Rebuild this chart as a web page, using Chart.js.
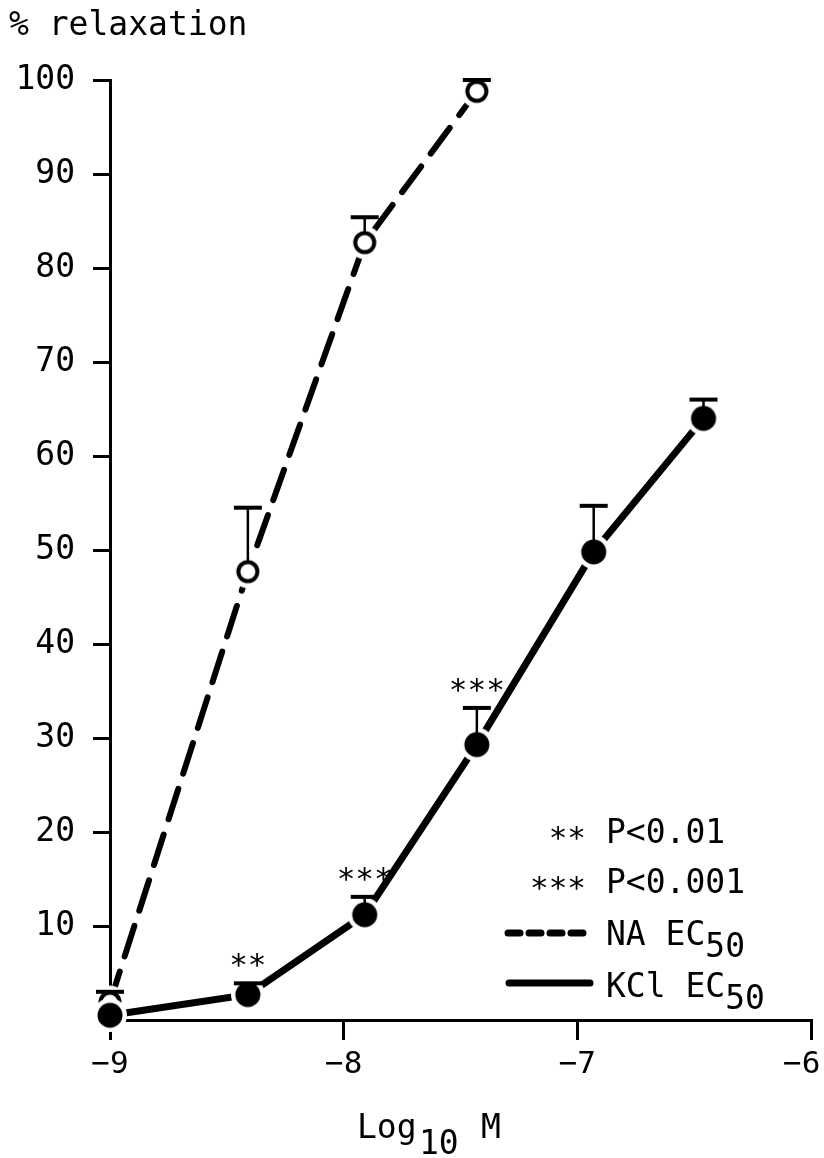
<!DOCTYPE html>
<html>
<head>
<meta charset="utf-8">
<script src="https://cdn.jsdelivr.net/npm/chart.js@4.4.1/dist/chart.umd.min.js"></script>
<style>
  html, body { margin: 0; padding: 0; background: #fff; }
  #wrap { width: 824px; height: 1158px; }
</style>
</head>
<body>
<div id="wrap"><canvas id="c" width="824" height="1158"></canvas></div>
<script>
// ---- data ----
const xTicks = [-9, -8, -7, -6];
const yTicks = [10, 20, 30, 40, 50, 60, 70, 80, 90, 100];

const naLogM   = [-9, -8.41, -7.91, -7.43];
const naRelax  = [1.9, 47.7, 82.7, 98.8];
const naErrTop = [3.0, 54.5, 85.4, 100];

const kclLogM   = [-9, -8.41, -7.91, -7.43, -6.93, -6.46];
const kclRelax  = [0.5, 2.7, 11.2, 29.3, 49.8, 64.0];
const kclErrTop = [null, 3.9, 13.1, 33.2, 54.7, 66.0];

const sigLogM  = [-8.41, -7.91, -7.43];
const sigStars = ['**', '***', '***'];

const legendRows = [
  { mark: '**',  text: 'P<0.01',  sub: '' },
  { mark: '***', text: 'P<0.001', sub: '' },
  { mark: 'dash', text: 'NA EC', sub: '50' },
  { mark: 'solid', text: 'KCl EC', sub: '50' }
];

const FONT = '"DejaVu Sans Mono", monospace';

const pts = (xs, ys) => xs.map((x, i) => ({ x: x, y: ys[i] }));

// marker sprites: black circle (filled or open) with a white halo ring
function makeMarker(filled, R, ring, halo) {
  const size = 2 * Math.ceil(R + halo);
  const c = document.createElement('canvas');
  c.width = c.height = size;
  const g = c.getContext('2d');
  const m = size / 2;
  g.fillStyle = '#fff';
  g.beginPath(); g.arc(m, m, R + halo, 0, Math.PI * 2); g.fill();
  g.fillStyle = '#000';
  g.beginPath(); g.arc(m, m, R, 0, Math.PI * 2); g.fill();
  if (!filled) {
    g.fillStyle = '#fff';
    g.beginPath(); g.arc(m, m, R - ring, 0, Math.PI * 2); g.fill();
  }
  return c;
}
const NA_R = 11.5, KCL_R = 12.5;
const naMarker  = makeMarker(false, NA_R, 4, 5);
const kclMarker = makeMarker(true, KCL_R, 0, 4.5);

const overlay = {
  id: 'overlay',
  afterDatasetsDraw(chart) {
    const ctx = chart.ctx, xs = chart.scales.x, ys = chart.scales.y;
    ctx.save();
    ctx.strokeStyle = '#000';
    ctx.lineCap = 'butt';
    const drawErr = (lx, ly, ey, r) => {
      lx.forEach((x, i) => {
        if (ey[i] == null) return;
        const px = xs.getPixelForValue(x);
        const py = ys.getPixelForValue(ly[i]);
        const pe = ys.getPixelForValue(ey[i]);
        if (py - r > pe) {
          ctx.lineWidth = 2.5;
          ctx.beginPath(); ctx.moveTo(px, py - r + 1); ctx.lineTo(px, pe); ctx.stroke();
        }
        ctx.lineWidth = 4;
        ctx.beginPath(); ctx.moveTo(px - 14, pe); ctx.lineTo(px + 14, pe); ctx.stroke();
      });
    };
    drawErr(naLogM, naRelax, naErrTop, NA_R);
    drawErr(kclLogM, kclRelax, kclErrTop, KCL_R);
    ctx.restore();
  },
  afterDraw(chart) {
    const ctx = chart.ctx, xs = chart.scales.x, ys = chart.scales.y;
    ctx.save();
    ctx.fillStyle = '#000';
    ctx.strokeStyle = '#000';
    ctx.textBaseline = 'alphabetic';

    // y-axis title
    ctx.font = '33px ' + FONT;
    ctx.textAlign = 'left';
    ctx.fillText('% relaxation', 9, 35);

    // x-axis title with subscript
    ctx.fillText('Log', 357, 1138);
    ctx.fillText('10', 419, 1154);
    ctx.fillText('M', 481, 1138);

    // significance stars above KCl error bars
    ctx.font = '31px ' + FONT;
    ctx.textAlign = 'center';
    sigLogM.forEach((x, i) => {
      const k = kclLogM.indexOf(x);
      const top = kclErrTop[k] != null ? kclErrTop[k] : kclRelax[k];
      ctx.fillText(sigStars[i], xs.getPixelForValue(x), ys.getPixelForValue(top) - 8);
    });

    // legend block
    const lx = 606;
    const rowsY = [843, 893, 945, 997];
    legendRows.forEach((r, i) => {
      const by = rowsY[i];
      if (r.mark === 'dash') {
        ctx.lineWidth = 7; ctx.lineCap = 'round';
        ctx.setLineDash([12, 9]);
        ctx.beginPath(); ctx.moveTo(508, by - 12); ctx.lineTo(590, by - 12); ctx.stroke();
        ctx.setLineDash([]);
      } else if (r.mark === 'solid') {
        ctx.lineWidth = 7; ctx.lineCap = 'round';
        ctx.beginPath(); ctx.moveTo(509, by - 14); ctx.lineTo(590, by - 14); ctx.stroke();
      } else {
        ctx.font = '31px ' + FONT;
        ctx.textAlign = 'right';
        ctx.fillText(r.mark, 586, by + 5);
      }
      ctx.font = '33px ' + FONT;
      ctx.textAlign = 'left';
      ctx.fillText(r.text, lx, by);
      if (r.sub) {
        const w = ctx.measureText(r.text).width;
        ctx.fillText(r.sub, lx + w, by + 12);
      }
    });
    ctx.restore();
  }
};

new Chart(document.getElementById('c'), {
  type: 'line',
  data: {
    datasets: [
      { label: 'NA line', data: pts(naLogM, naRelax), borderColor: '#000', borderWidth: 6,
        borderDash: [32, 16], borderCapStyle: 'round', pointRadius: 0, tension: 0, fill: false, clip: false, order: 10 },
      { label: 'KCl line', data: pts(kclLogM, kclRelax), borderColor: '#000', borderWidth: 7,
        borderCapStyle: 'round', pointRadius: 0, tension: 0, fill: false, clip: false, order: 9 },
      { label: 'NA', data: pts(naLogM, naRelax), showLine: false, pointStyle: naMarker, pointRadius: 12,
        clip: false, order: 2 },
      { label: 'KCl', data: pts(kclLogM, kclRelax), showLine: false, pointStyle: kclMarker, pointRadius: 12,
        clip: false, order: 1 }
    ]
  },
  options: {
    responsive: false,
    animation: false,
    events: [],
    layout: { padding: { top: 80, right: 12, left: 0, bottom: 0 } },
    plugins: { legend: { display: false }, tooltip: { enabled: false } },
    scales: {
      x: {
        type: 'linear', min: -9, max: -6,
        afterBuildTicks: s => { s.ticks = xTicks.map(v => ({ value: v })); },
        ticks: { font: { family: FONT, size: 31 }, color: '#000', padding: 6, maxRotation: 0,
                 callback: v => String(v).replace('-', '\u2212') + (v === xTicks[xTicks.length - 1] ? ' ' : '') },
        grid: { drawOnChartArea: false, drawTicks: true, tickLength: 20, lineWidth: 3, color: '#000' },
        border: { display: true, width: 3, color: '#000' },
        afterFit: s => { s.height = 138; s.paddingLeft = 0; s.paddingRight = 0; }
      },
      y: {
        type: 'linear', min: 0, max: 100,
        afterBuildTicks: s => { s.ticks = yTicks.map(v => ({ value: v })); },
        ticks: { font: { family: FONT, size: 33 }, color: '#000', padding: 18 },
        grid: { drawOnChartArea: false, drawTicks: true, tickLength: 17, lineWidth: 3, color: '#000' },
        border: { display: true, width: 3, color: '#000' },
        afterFit: s => { s.width = 110; s.paddingTop = 0; s.paddingBottom = 0; }
      }
    }
  },
  plugins: [overlay]
});
</script>
</body>
</html>
